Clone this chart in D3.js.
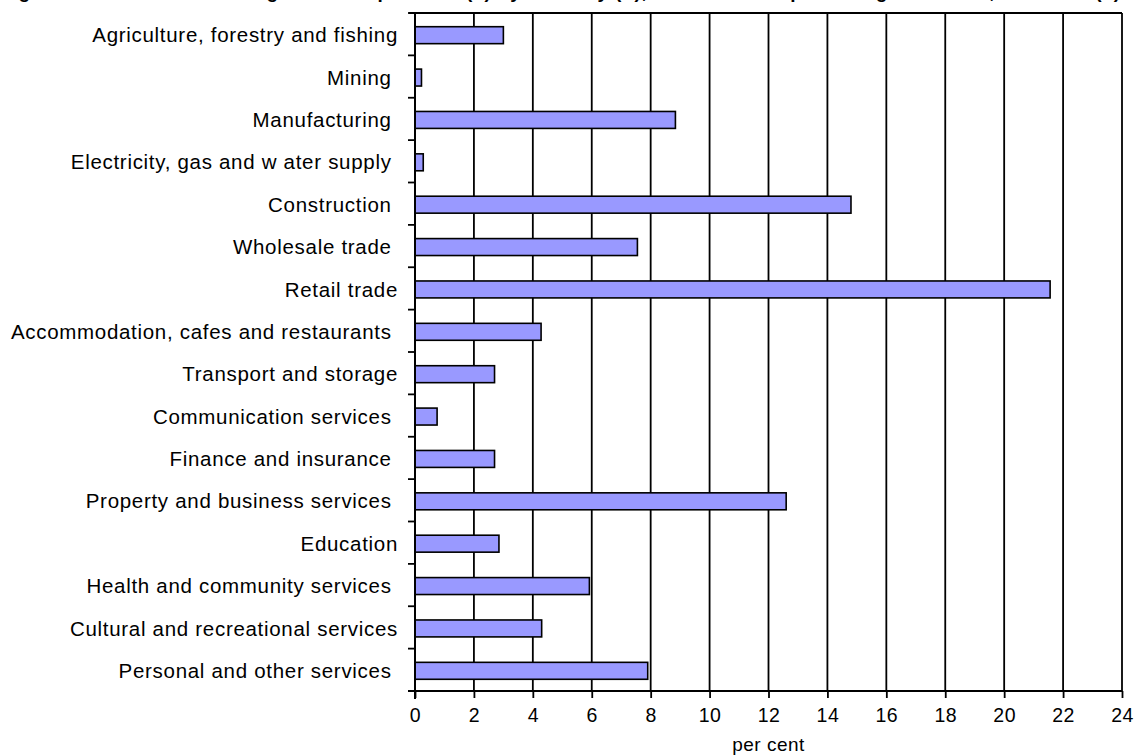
<!DOCTYPE html>
<html>
<head>
<meta charset="utf-8">
<script src="https://cdn.jsdelivr.net/npm/d3@7"></script>
<style>
  body { margin: 0; background: #fff; }
  svg { font-family: "Liberation Sans", Arial, sans-serif; }
</style>
</head>
<body>
<script>
// industries, top to bottom (trailing spaces kept as in the original labels)
var industries = ["Agriculture, forestry and fishing", "Mining ", "Manufacturing ",
    "Electricity, gas and w ater supply ", "Construction ", "Wholesale trade ", "Retail trade",
    "Accommodation, cafes and restaurants ", "Transport and storage", "Communication services ",
    "Finance and insurance ", "Property and business services ", "Education",
    "Health and community services ", "Cultural and recreational services", "Personal and other services "];
var shares = [3.0, 0.22, 8.84, 0.28, 14.8, 7.55, 21.56, 4.28, 2.7, 0.75, 2.7, 12.6, 2.85, 5.92, 4.3, 7.9];
var xTicks = [0, 2, 4, 6, 8, 10, 12, 14, 16, 18, 20, 22, 24];

var width = 1135, height = 755;
var plotLeft = 415, plotRight = 1122, plotTop = 13, plotBottom = 691;

var svg = d3.select('body').append('svg').attr('width', width).attr('height', height);

// title, clipped by the top edge (only descenders show)
svg.append('text')
    .attr('x', 0).attr('y', -2)
    .attr('font-weight', 'bold').attr('font-size', 19)
    .attr('textLength', 1120)
    .text('Figure 3.2: Small business growth in operators (a) by industry (b), share of total percentage increase, Australia (c)');

var x = d3.scaleLinear().domain([0, 24]).range([plotLeft, plotRight]);
var y = d3.scaleBand().domain(industries).range([plotTop, plotBottom]).paddingInner(0.6).paddingOuter(0.3);

// vertical grid lines
svg.append('g').selectAll('line').data(xTicks.slice(1)).enter().append('line')
    .attr('x1', d => x(d)).attr('x2', d => x(d))
    .attr('y1', plotTop).attr('y2', plotBottom)
    .attr('stroke', '#000').attr('stroke-width', 1.8);

// top border
svg.append('line').attr('x1', plotLeft - 6).attr('x2', plotRight).attr('y1', plotTop).attr('y2', plotTop)
    .attr('stroke', '#000').attr('stroke-width', 1.8);

// bars
svg.append('g').selectAll('rect').data(industries).enter().append('rect')
    .attr('x', x(0))
    .attr('y', d => y(d) + 1)
    .attr('width', (d, i) => x(shares[i]) - x(0))
    .attr('height', y.bandwidth())
    .attr('fill', '#9999ff')
    .attr('stroke', '#000').attr('stroke-width', 1.6);

// category axis: ticks between bands
var yEdges = d3.scaleLinear().domain([0, industries.length]).range([plotTop, plotBottom]);
var catAxis = svg.append('g');
catAxis.append('line').attr('x1', plotLeft).attr('x2', plotLeft).attr('y1', plotTop).attr('y2', plotBottom + 8)
    .attr('stroke', '#000').attr('stroke-width', 2);
catAxis.selectAll('.tk').data(d3.range(industries.length + 1)).enter().append('line')
    .attr('x1', plotLeft - 7).attr('x2', plotLeft)
    .attr('y1', d => yEdges(d)).attr('y2', d => yEdges(d))
    .attr('stroke', '#000').attr('stroke-width', 1.8);
catAxis.selectAll('text').data(industries).enter().append('text')
    .attr('x', 398)
    .attr('y', d => y(d) + y.bandwidth() / 2 + 1)
    .attr('dy', '0.35em')
    .attr('text-anchor', 'end')
    .attr('font-size', 20.5)
    .attr('letter-spacing', 0.7)
    .style('white-space', 'pre')
    .text(d => d);

// value axis
var xAxis = svg.append('g').attr('transform', 'translate(0,' + plotBottom + ')')
    .call(d3.axisBottom(x).tickValues(xTicks).tickSize(7).tickPadding(10).tickFormat(d3.format('d')));
xAxis.select('.domain').attr('d', 'M' + (plotLeft - 7) + ',0H' + plotRight).attr('stroke-width', 2);
xAxis.selectAll('.tick line').attr('stroke-width', 1.8);
xAxis.selectAll('.tick text').style('font-size', '19.5px').style('letter-spacing', '0.5px').attr('fill', '#000')
    .style('font-family', '"Liberation Sans", Arial, sans-serif');

svg.append('text')
    .attr('x', x(12)).attr('y', 751)
    .attr('text-anchor', 'middle').attr('font-size', 19)
    .attr('letter-spacing', 0.5)
    .text('per cent');
</script>
</body>
</html>
